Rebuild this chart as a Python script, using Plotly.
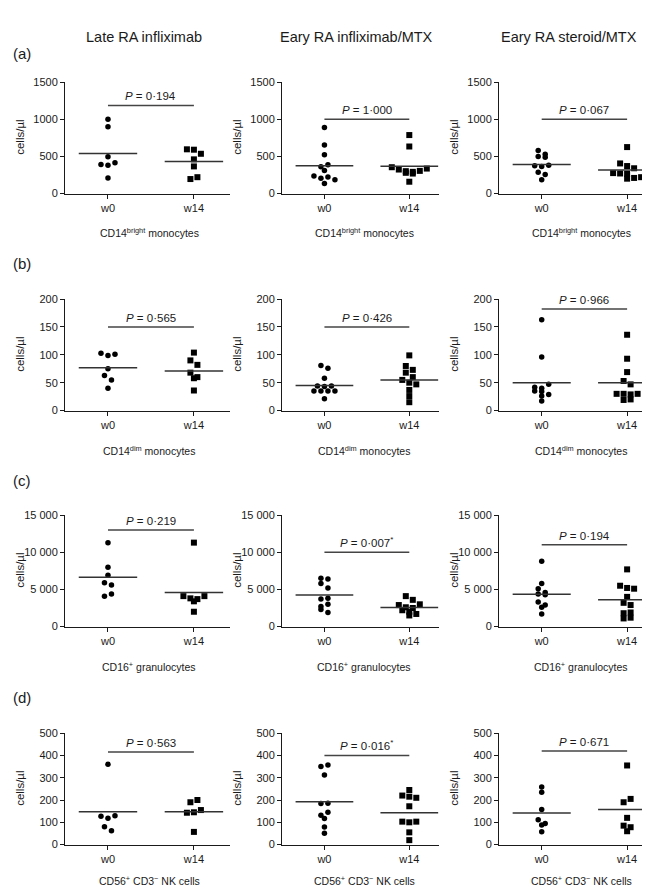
import plotly.graph_objects as go

W, H = 650, 887
FONT = "Liberation Sans, Arial, Helvetica, sans-serif"
INK = "#1a1a1a"

# ---------------- text ----------------
col_titles = ["Late RA infliximab", "Eary RA infliximab/MTX", "Eary RA steroid/MTX"]
row_letters = ["(a)", "(b)", "(c)", "(d)"]
row_subtitles = ["CD14<sup>bright</sup> monocytes", "CD14<sup>dim</sup> monocytes",
                 "CD16<sup>+</sup> granulocytes", "CD56<sup>+</sup> CD3<sup>−</sup> NK cells"]
categories = ["w0", "w14"]
y_title = "cells/µl"

# ---------------- axes values ----------------
row_ymax = [1500, 200, 15000, 500]
row_tickvals = [[0, 500, 1000, 1500], [0, 50, 100, 150, 200],
                [0, 5000, 10000, 15000], [0, 100, 200, 300, 400, 500]]
row_ticktext = [["0", "500", "1000", "1500"], ["0", "50", "100", "150", "200"],
                ["0", "5 000", "10 000", "15 000"], ["0", "100", "200", "300", "400", "500"]]

# ---------------- data (cells/µl) ----------------
# row (a) CD14bright monocytes
a1_w0 = [1000, 900, 495, 390, 380, 415, 210]
a1_w14 = [595, 590, 535, 460, 365, 195, 220]
a2_w0 = [887, 652, 522, 362, 387, 311, 237, 205, 223, 184, 135]
a2_w14 = [787, 633, 354, 323, 301, 279, 269, 292, 305, 336, 159]
a3_w0 = [580, 530, 500, 490, 375, 365, 380, 285, 255, 185]
a3_w14 = [625, 405, 370, 340, 275, 270, 265, 210, 200, 220]
# row (b) CD14dim monocytes
b1_w0 = [103, 99, 101, 75, 63, 55, 40]
b1_w14 = [104, 90, 82, 68, 60, 58, 36]
b2_w0 = [81, 76, 58, 44, 35, 35, 35, 35, 43, 44, 21]
b2_w14 = [99, 80, 73, 68, 60, 55, 50, 47, 37, 26, 15]
b3_w0 = [163, 96, 42, 40, 47, 35, 34, 29, 26, 17]
b3_w14 = [136, 93, 69, 53, 47, 30, 30, 29, 30, 19, 20]
# row (c) CD16+ granulocytes
c1_w0 = [11300, 8000, 6900, 5900, 5600, 4100, 4400]
c1_w14 = [11300, 4100, 3800, 3400, 3700, 4100, 2000]
c2_w0 = [6500, 6400, 5800, 5200, 3700, 3800, 2700, 3000, 2300, 1900]
c2_w14 = [4100, 3600, 2900, 2600, 2500, 3000, 2200, 2000, 1500, 1700]
c3_w0 = [8800, 5800, 5100, 4600, 4400, 4300, 3300, 2900, 2600, 1700]
c3_w14 = [7700, 5500, 5200, 5100, 4000, 3200, 2900, 1800, 1100, 1200, 1900]
# row (d) CD56+ CD3- NK cells
d1_w0 = [360, 127, 118, 130, 80, 62]
d1_w14 = [190, 200, 143, 145, 155, 57]
d2_w0 = [350, 357, 312, 184, 186, 132, 117, 145, 79, 51]
d2_w14 = [245, 220, 215, 210, 172, 103, 100, 103, 55, 20]
d3_w0 = [258, 235, 157, 112, 95, 88, 58]
d3_w14 = [355, 190, 205, 120, 85, 78, 60]

w0_data = [[a1_w0, a2_w0, a3_w0], [b1_w0, b2_w0, b3_w0],
           [c1_w0, c2_w0, c3_w0], [d1_w0, d2_w0, d3_w0]]
w14_data = [[a1_w14, a2_w14, a3_w14], [b1_w14, b2_w14, b3_w14],
            [c1_w14, c2_w14, c3_w14], [d1_w14, d2_w14, d3_w14]]

# group lines (as drawn)
w0_line = [[540, 375, 390], [77, 45, 50], [6650, 4250, 4350], [147, 192, 142]]
w14_line = [[430, 367, 318], [71, 55, 50], [4600, 2580, 3600], [147, 143, 158]]

# P values and bracket heights
p_text = [["0·194", "1·000", "0·067"], ["0·565", "0·426", "0·966"],
          ["0·219", "0·007<sup>*</sup>", "0·194"], ["0·563", "0·016<sup>*</sup>", "0·671"]]
p_level = [[1185, 1000, 1000], [150, 150, 182], [13000, 10000, 11000], [415, 400, 420]]

# ---------------- layout geometry (pixels) ----------------
col_px = [(57, 222), (274, 431), (491, 649)]
row_px = [(69, 182), (289, 402), (508, 621), (729, 842)]
col_xrange = [(-0.5, 1.42), (-0.5, 1.35), (-0.5, 1.35)]
title_cx = [136, 348, 561]
sub_cx = [141, 356, 573]
ytitle_x = [12, 229, 446]
title_y = 23
letter_y = [40, 253, 473, 693]
sub_y = [221, 442, 661, 878]


def swarm_offsets(vals, ymax, px_h, px_per_unit, d_px=7.0, thr_px=5.0):
    order = sorted(range(len(vals)), key=lambda i: -vals[i])
    rows = []
    for i in order:
        py = vals[i] / ymax * px_h
        if rows and rows[-1][0] - py < thr_px:
            rows[-1][1].append(i)
        else:
            rows.append([py, [i]])
    offs = [0.0] * len(vals)
    for _, members in rows:
        members = sorted(members)
        n = len(members)
        for j, i in enumerate(members):
            offs[i] = (j - (n - 1) / 2) * d_px / px_per_unit
    return offs


fig = go.Figure()
annotations = []
layout_axes = {}

for r in range(4):
    for c in range(3):
        k = r * 3 + c + 1
        xa = "x" if k == 1 else f"x{k}"
        ya = "y" if k == 1 else f"y{k}"
        x0, x1 = col_px[c]
        y0, y1 = row_px[r]
        xr = col_xrange[c]
        px_per_unit = (x1 - x0) / (xr[1] - xr[0])
        ymax = row_ymax[r]
        px_h = y1 - y0

        layout_axes["xaxis" if k == 1 else f"xaxis{k}"] = dict(
            domain=[x0 / W, x1 / W], range=list(xr), anchor=ya,
            tickmode="array", tickvals=[0, 1], ticktext=categories,
            ticks="outside", ticklen=4, tickwidth=1, tickcolor=INK,
            showline=True, linecolor=INK, linewidth=1,
            showgrid=False, zeroline=False,
            tickfont=dict(family=FONT, size=11, color=INK), fixedrange=True)
        layout_axes["yaxis" if k == 1 else f"yaxis{k}"] = dict(
            domain=[1 - y1 / H, 1 - y0 / H], range=[0, ymax], anchor=xa,
            tickmode="array", tickvals=row_tickvals[r], ticktext=row_ticktext[r],
            ticks="outside", ticklen=4, tickwidth=1, tickcolor=INK,
            showline=True, linecolor=INK, linewidth=1,
            showgrid=False, zeroline=False,
            tickfont=dict(family=FONT, size=11, color=INK), fixedrange=True)

        for gi, (vals, sym) in enumerate([(w0_data[r][c], "circle"), (w14_data[r][c], "square")]):
            offs = swarm_offsets(vals, ymax, px_h, px_per_unit)
            fig.add_trace(go.Scatter(
                x=[gi + o for o in offs], y=vals, mode="markers", xaxis=xa, yaxis=ya,
                marker=dict(symbol=sym, size=5.5 if sym == "circle" else 6, color="black",
                            line=dict(width=0)),
                cliponaxis=False, hoverinfo="y", showlegend=False))

        for gi, lv in enumerate([w0_line[r][c], w14_line[r][c]]):
            fig.add_trace(go.Scatter(
                x=[gi - 0.34, gi + 0.34], y=[lv, lv], mode="lines", xaxis=xa, yaxis=ya,
                line=dict(color="#333333", width=1.5), hoverinfo="skip", showlegend=False))

        pl = p_level[r][c]
        fig.add_trace(go.Scatter(
            x=[0, 1], y=[pl, pl], mode="lines", xaxis=xa, yaxis=ya,
            line=dict(color="#444444", width=1.5), hoverinfo="skip", showlegend=False,
            cliponaxis=False))
        annotations.append(dict(
            text=f"<i>P</i> = {p_text[r][c]}", x=0.5, y=pl, xref=xa, yref=ya,
            xanchor="center", yanchor="bottom", yshift=1, showarrow=False,
            font=dict(family=FONT, size=11.5, color=INK)))

        annotations.append(dict(
            text=y_title, x=ytitle_x[c] / W, y=1 - (y0 + y1) / 2 / H, xref="paper", yref="paper",
            xanchor="center", yanchor="middle", textangle=-90, showarrow=False,
            font=dict(family=FONT, size=11.5, color=INK)))

        annotations.append(dict(
            text=row_subtitles[r], x=sub_cx[c] / W, y=1 - sub_y[r] / H, xref="paper", yref="paper",
            xanchor="center", yanchor="middle", showarrow=False,
            font=dict(family=FONT, size=10.5, color=INK)))

for c in range(3):
    annotations.append(dict(
        text=col_titles[c], x=title_cx[c] / W, y=1 - title_y / H, xref="paper", yref="paper",
        xanchor="center", yanchor="middle", showarrow=False,
        font=dict(family=FONT, size=14.5, color=INK)))

for r in range(4):
    annotations.append(dict(
        text=row_letters[r], x=3 / W, y=1 - letter_y[r] / H, xref="paper", yref="paper",
        xanchor="left", yanchor="middle", showarrow=False,
        font=dict(family=FONT, size=15, color=INK)))

fig.update_layout(
    width=W, height=H, margin=dict(l=0, r=0, t=0, b=0),
    paper_bgcolor="white", plot_bgcolor="white", showlegend=False,
    annotations=annotations, **layout_axes)

fig.write_html("out.html")
